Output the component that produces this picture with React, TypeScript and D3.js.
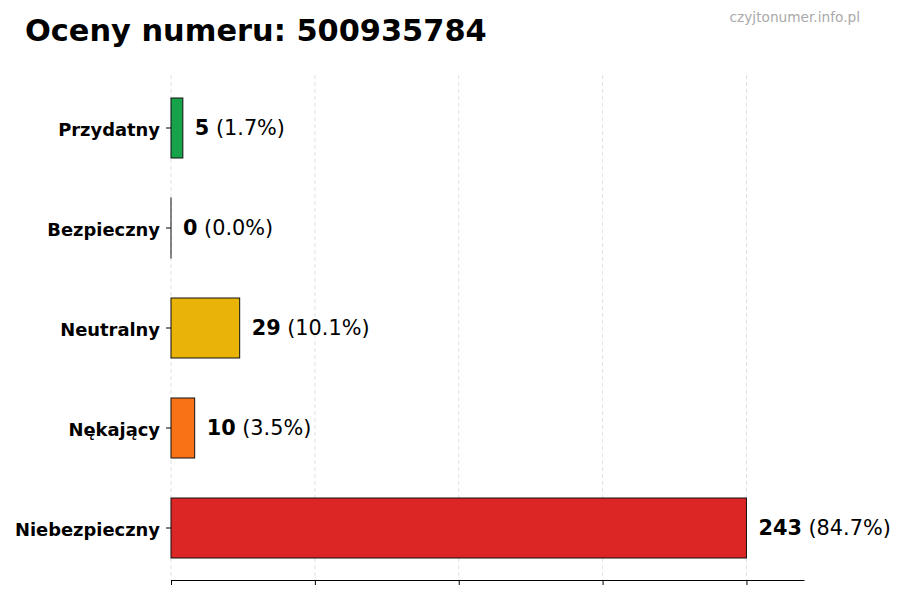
import * as d3 from "d3";
import { useEffect, useRef } from "react";

const categories = ["Przydatny", "Bezpieczny", "Neutralny", "Nękający", "Niebezpieczny"];
const counts = [5, 0, 29, 10, 243];
const percents = ["1.7%", "0.0%", "10.1%", "3.5%", "84.7%"];
const colors = ["#16a34a", "#9ca3af", "#eab308", "#f97316", "#dc2626"];

const phone = "500935784";
const source = "czyjtonumer.info.pl";

export default function App() {
  const ref = useRef<SVGSVGElement | null>(null);

  useEffect(() => {
    if (!ref.current) return;
    const width = 900;
    const height = 600;
    const font = "DejaVu Sans, sans-serif";

    const svg = d3.select(ref.current);
    svg.selectAll("*").remove();

    const max = d3.max(counts) ?? 1;
    const x = d3.scaleLinear().domain([0, max * 1.1]).range([171, 804]);
    const y = d3
      .scaleBand()
      .domain(categories)
      .range([78, 578])
      .paddingInner(0.4)
      .paddingOuter(0.2);

    const rows = categories.map((c, i) => ({ cat: c, n: counts[i], pct: percents[i], color: colors[i] }));
    const ticks = [0, 0.25, 0.5, 0.75, 1].map((t) => t * max);

    // grid
    svg
      .append("g")
      .selectAll("line")
      .data(ticks)
      .join("line")
      .attr("x1", (d) => x(d))
      .attr("x2", (d) => x(d))
      .attr("y1", 75)
      .attr("y2", 580)
      .attr("stroke", "#d9d9d9")
      .attr("stroke-width", 0.8)
      .attr("stroke-dasharray", "4,3");

    // bars (zero-width ones still show their edge)
    svg
      .append("g")
      .selectAll("rect")
      .data(rows)
      .join("rect")
      .attr("x", x(0))
      .attr("y", (d) => y(d.cat) ?? 0)
      .attr("width", (d) => Math.max(x(d.n) - x(0), 0.01))
      .attr("height", y.bandwidth())
      .attr("fill", (d) => d.color)
      .attr("stroke", "#111")
      .attr("stroke-width", 1);

    // value labels
    const lbl = svg
      .append("g")
      .selectAll("text")
      .data(rows)
      .join("text")
      .attr("x", (d) => x(d.n) + 12)
      .attr("y", (d) => (y(d.cat) ?? 0) + y.bandwidth() / 2)
      .attr("dy", "0.36em")
      .style("font-family", font)
      .style("font-size", "20.8px")
      .attr("fill", "#000");
    lbl.append("tspan").style("font-weight", "bold").text((d) => `${d.n}`);
    lbl.append("tspan").text((d) => ` (${d.pct})`);

    // y axis
    const yAxis = svg
      .append("g")
      .attr("transform", `translate(${x(0)},0)`)
      .call(d3.axisLeft(y).tickSize(5).tickPadding(6));
    yAxis.select(".domain").remove();
    yAxis.selectAll(".tick line").attr("stroke", "#000");
    yAxis
      .selectAll("text")
      .attr("dy", "0.45em")
      .style("font-family", font)
      .style("font-size", "17.9px")
      .style("font-weight", "bold")
      .attr("fill", "#000");

    // x axis
    const xAxis = svg
      .append("g")
      .attr("transform", `translate(0,580)`)
      .call(
        d3
          .axisBottom(x)
          .tickValues(ticks)
          .tickSize(5)
          .tickSizeOuter(0)
          .tickFormat(() => "")
      );
    xAxis.select(".domain").attr("stroke", "#000");
    xAxis.selectAll(".tick line").attr("stroke", "#000");

    // title + source
    svg
      .append("text")
      .attr("x", 25)
      .attr("y", 41)
      .style("font-family", font)
      .style("font-size", "30.4px")
      .style("font-weight", "bold")
      .attr("fill", "#000")
      .text(`Oceny numeru: ${phone}`);

    svg
      .append("text")
      .attr("x", 860)
      .attr("y", 22)
      .attr("text-anchor", "end")
      .style("font-family", font)
      .style("font-size", "13.7px")
      .attr("fill", "#aaaaaa")
      .text(source);

    svg.attr("width", width).attr("height", height);
  }, []);

  return (
    <svg
      ref={ref}
      width={900}
      height={600}
      style={{ position: "absolute", left: 0, top: 0, background: "#fff" }}
      role="img"
      aria-label="Oceny numeru"
    />
  );
}
